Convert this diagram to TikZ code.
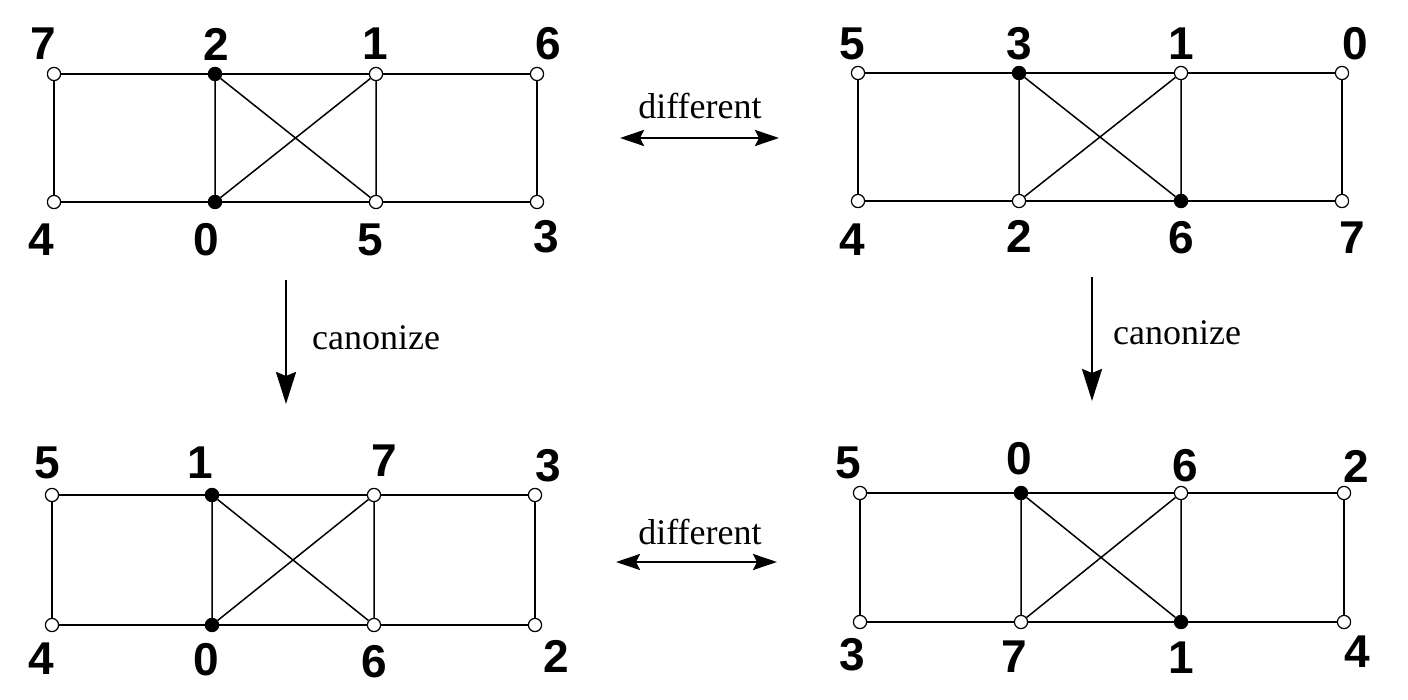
\documentclass[tikz,border=0pt]{standalone}
\usepackage{fontspec}
\setmainfont{Liberation Serif}
\newfontfamily\lblfont{Liberation Sans}
\usetikzlibrary{arrows.meta}
\tikzset{
  vw/.style={circle,draw,fill=white,line width=0.6pt,minimum size=6.6pt,inner sep=0pt},
  vb/.style={circle,draw,fill=black,line width=0.6pt,minimum size=6.6pt,inner sep=0pt},
  lbl/.style={font=\lblfont\bfseries\fontsize{23}{27}\selectfont,inner sep=0pt},
  edge/.style={line width=0.75pt},
  txt/.style={font=\fontsize{18}{22}\selectfont,inner sep=0pt},
  harr/.style={line width=1.3pt,{Stealth[length=12pt,width=8pt,inset=2pt]}-{Stealth[length=12pt,width=8pt,inset=2pt]}},
  varr/.style={line width=1.3pt,-{Stealth[length=16pt,width=10pt,inset=2pt]}}
}
\begin{document}
\begin{tikzpicture}[x=0.5pt,y=-0.5pt]
\useasboundingbox (0,0) rectangle (1408,700);
% ---------- Graph A (top left)
\node[vw] (a7) at (54,74) {};
\node[vb] (a2) at (215,74) {};
\node[vw] (a1) at (376,74) {};
\node[vw] (a6) at (537,74) {};
\node[vw] (a4) at (54,202) {};
\node[vb] (a0) at (215,202) {};
\node[vw] (a5) at (376,202) {};
\node[vw] (a3) at (537,202) {};
\draw[edge] (a7)--(a2)--(a1)--(a6)--(a3)--(a5)--(a0)--(a4)--(a7);
\draw[edge] (a2)--(a0) (a1)--(a5) (a2)--(a5) (a0)--(a1);
\node[lbl] (la7) at (43,44) {7};
\node[lbl] (la2) at (216,44) {2};
\node[lbl] (la1) at (375,44) {1};
\node[lbl] (la6) at (548,44) {6};
\node[lbl] (la4) at (41,240) {4};
\node[lbl] (la0) at (206,240) {0};
\node[lbl] (la5) at (370,240) {5};
\node[lbl] (la3) at (546,237) {3};
% ---------- Graph B (top right)
\node[vw] (b5) at (858,73) {};
\node[vb] (b3) at (1019,73) {};
\node[vw] (b1) at (1181,73) {};
\node[vw] (b0) at (1342,73) {};
\node[vw] (b4) at (858,201) {};
\node[vw] (b2) at (1019,201) {};
\node[vb] (b6) at (1181,201) {};
\node[vw] (b7) at (1342,201) {};
\draw[edge] (b5)--(b3)--(b1)--(b0)--(b7)--(b6)--(b2)--(b4)--(b5);
\draw[edge] (b3)--(b2) (b1)--(b6) (b3)--(b6) (b2)--(b1);
\node[lbl] (lb5) at (852,44) {5};
\node[lbl] (lb3) at (1019,44) {3};
\node[lbl] (lb1) at (1181,44) {1};
\node[lbl] (lb0) at (1355,44) {0};
\node[lbl] (lb4) at (852,240) {4};
\node[lbl] (lb2) at (1019,236) {2};
\node[lbl] (lb6) at (1181,238) {6};
\node[lbl] (lb7) at (1352,238) {7};
% ---------- Graph C (bottom left)
\node[vw] (c5) at (52,495) {};
\node[vb] (c1) at (212,495) {};
\node[vw] (c7) at (374,495) {};
\node[vw] (c3) at (535,495) {};
\node[vw] (c4) at (52,625) {};
\node[vb] (c0) at (212,625) {};
\node[vw] (c6) at (374,625) {};
\node[vw] (c2) at (535,625) {};
\draw[edge] (c5)--(c1)--(c7)--(c3)--(c2)--(c6)--(c0)--(c4)--(c5);
\draw[edge] (c1)--(c0) (c7)--(c6) (c1)--(c6) (c0)--(c7);
\node[lbl] (lc5) at (47,463) {5};
\node[lbl] (lc1) at (200,463) {1};
\node[lbl] (lc7) at (384,461) {7};
\node[lbl] (lc3) at (548,466) {3};
\node[lbl] (lc4) at (41,659) {4};
\node[lbl] (lc0) at (206,660) {0};
\node[lbl] (lc6) at (374,662) {6};
\node[lbl] (lc2) at (556,656) {2};
% ---------- Graph D (bottom right)
\node[vw] (d5) at (860,493) {};
\node[vb] (d0) at (1021,493) {};
\node[vw] (d6) at (1181,493) {};
\node[vw] (d2) at (1344,493) {};
\node[vw] (d3) at (860,622) {};
\node[vw] (d7) at (1021,622) {};
\node[vb] (d1) at (1181,622) {};
\node[vw] (d4) at (1344,622) {};
\draw[edge] (d5)--(d0)--(d6)--(d2)--(d4)--(d1)--(d7)--(d3)--(d5);
\draw[edge] (d0)--(d7) (d6)--(d1) (d0)--(d1) (d7)--(d6);
\node[lbl] (ld5) at (848,463) {5};
\node[lbl] (ld0) at (1019,459) {0};
\node[lbl] (ld6) at (1185,466) {6};
\node[lbl] (ld2) at (1356,466) {2};
\node[lbl] (ld3) at (852,655) {3};
\node[lbl] (ld7) at (1014,657) {7};
\node[lbl] (ld1) at (1181,658) {1};
\node[lbl] (ld4) at (1357,652) {4};
% ---------- arrows and texts
\coordinate (h1s) at (620,138);
\coordinate (h1e) at (779,138);
\draw[harr] (h1s) -- (h1e);
\node[txt] (t1) at (700,106) {different};
\coordinate (h2s) at (616,562);
\coordinate (h2e) at (777,562);
\draw[harr] (h2s) -- (h2e);
\node[txt] (t2) at (700,532) {different};
\coordinate (v1s) at (286,280);
\coordinate (v1e) at (286,404);
\draw[varr] (v1s) -- (v1e);
\node[txt] (t3) at (376,338) {canonize};
\coordinate (v2s) at (1092,277);
\coordinate (v2e) at (1092,401);
\draw[varr] (v2s) -- (v2e);
\node[txt] (t4) at (1177,333) {canonize};
\end{tikzpicture}
\end{document}
